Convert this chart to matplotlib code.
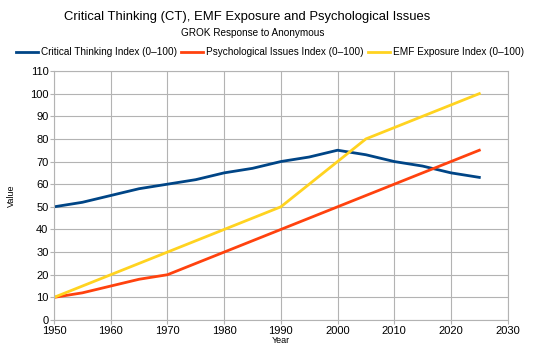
import matplotlib
matplotlib.use('Agg')
import matplotlib.pyplot as plt

years = [1950, 1955, 1960, 1965, 1970, 1975, 1980, 1985, 1990, 1995,
         2000, 2005, 2010, 2015, 2020, 2025]
critical_thinking = [50, 52, 55, 58, 60, 62, 65, 67, 70, 72, 75, 73, 70, 68, 65, 63]
psych_issues = [10, 12, 15, 18, 20, 25, 30, 35, 40, 45, 50, 55, 60, 65, 70, 75]
emf_exposure = [10, 15, 20, 25, 30, 35, 40, 45, 50, 60, 70, 80, 85, 90, 95, 100]

labels = ['Critical Thinking Index (0–100)',
          'Psychological Issues Index (0–100)',
          'EMF Exposure Index (0–100)']
colors = ['#004586', '#ff420e', '#ffd320']


def main():
    plt.rcParams['font.family'] = ['Liberation Sans', 'DejaVu Sans']
    fig = plt.figure(figsize=(5.37, 3.52), dpi=100)
    ax = fig.add_axes([0.1006, 0.0909, 0.8448, 0.7074])

    for vals, lab, c in zip([critical_thinking, psych_issues, emf_exposure], labels, colors):
        ax.plot(years, vals, color=c, lw=2, label=lab)

    ax.set_xlim(1950, 2030)
    ax.set_ylim(0, 110)
    ax.set_xticks(range(1950, 2031, 10))
    ax.set_yticks(range(0, 111, 10))
    ax.grid(True, color='#b3b3b3', lw=0.8)
    ax.set_axisbelow(True)
    for s in ax.spines.values():
        s.set_color('#b3b3b3')
    ax.tick_params(labelsize=8, color='#b3b3b3', length=3, pad=1)
    ax.set_xlabel('Year', fontsize=6.5, labelpad=0)
    ax.set_ylabel('Value', fontsize=6.5, labelpad=10)

    fig.text(0.46, 0.952, 'Critical Thinking (CT), EMF Exposure and Psychological Issues',
             ha='center', va='center', fontsize=9.4)
    fig.text(0.471, 0.906, 'GROK Response to Anonymous', ha='center', va='center', fontsize=7.2)
    fig.legend(loc='center', bbox_to_anchor=(0.503, 0.852), ncol=3, frameon=False,
               fontsize=7.2, handlelength=2.2, handletextpad=0.3, columnspacing=0.4,
               borderaxespad=0)

    fig.savefig('out.png', dpi=100)


if __name__ == '__main__':
    main()
